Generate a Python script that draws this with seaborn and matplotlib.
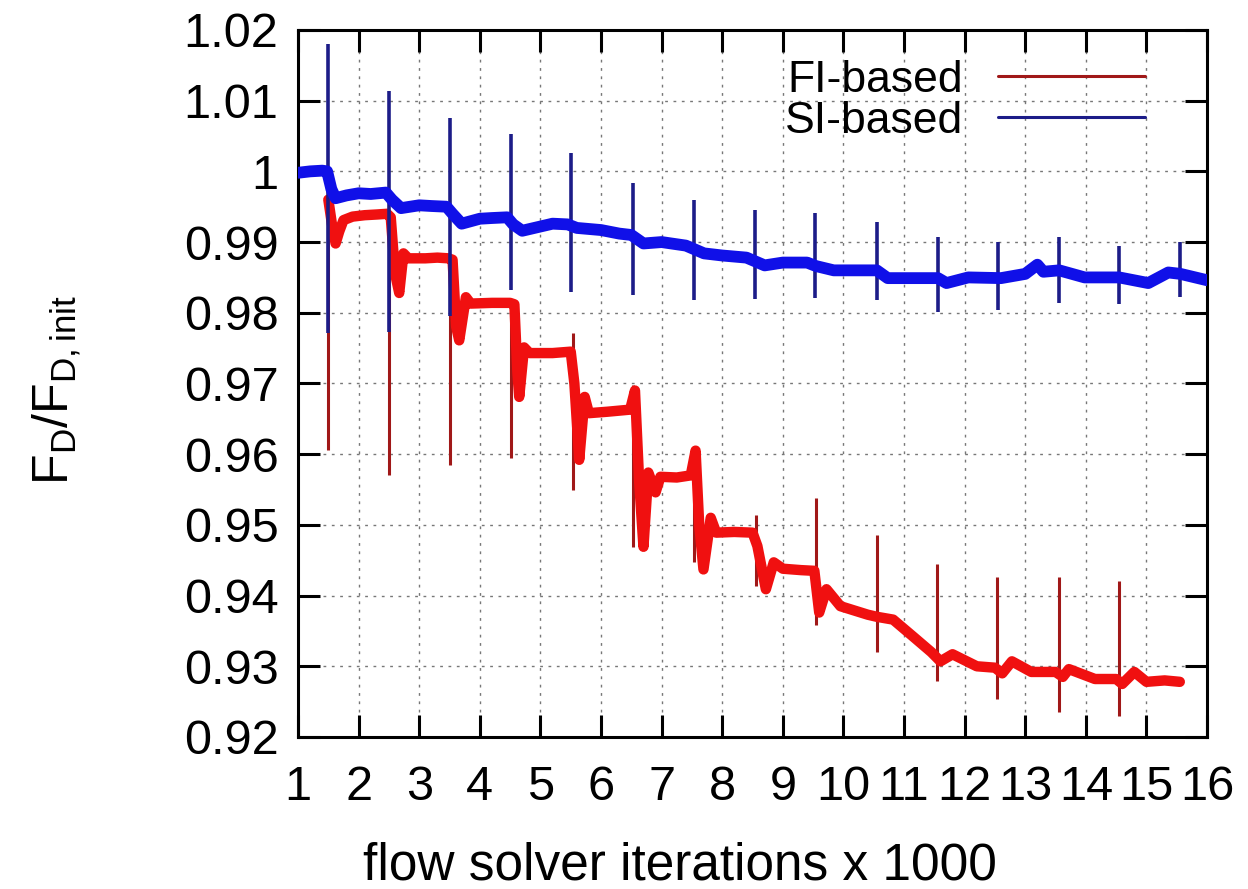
import matplotlib
matplotlib.use("Agg")
import matplotlib.pyplot as plt
import seaborn as sns
import pandas as pd
from matplotlib.lines import Line2D

# FI-based drag ratio (band of the noisy curve)
fi_x = [1.50, 1.56, 1.62, 1.68, 1.75, 1.90, 2.10, 2.30, 2.47, 2.53, 2.60, 2.67,
        2.74, 2.82, 3.10, 3.30, 3.48, 3.55, 3.61, 3.66, 3.77, 3.85, 4.20, 4.50,
        4.57, 4.62, 4.65, 4.73, 4.82, 5.20, 5.50, 5.56, 5.64, 5.73, 5.80, 6.10,
        6.48, 6.56, 6.63, 6.70, 6.78, 6.90, 6.98, 7.25, 7.48, 7.56, 7.62, 7.69,
        7.81, 7.90, 8.20, 8.50, 8.58, 8.72, 8.85, 9.00, 9.30, 9.52, 9.60, 9.72,
        9.95, 10.40, 10.55, 10.82, 11.15, 11.45, 11.60, 11.80, 12.20, 12.50,
        12.62, 12.78, 13.10, 13.50, 13.62, 13.72, 14.15, 14.50, 14.60, 14.80,
        15.00, 15.30, 15.55]
fi_y = [0.9960, 0.9925, 0.9898, 0.9915, 0.9931, 0.9936, 0.9938, 0.9939, 0.9940,
        0.9935, 0.9856, 0.9828, 0.9884, 0.9877, 0.9877, 0.9878, 0.9877, 0.9875,
        0.9780, 0.9761, 0.9822, 0.9813, 0.9814, 0.9814, 0.9812, 0.9715, 0.9681,
        0.9751, 0.9743, 0.9743, 0.9745, 0.9700, 0.9592, 0.9681, 0.9658, 0.9660,
        0.9663, 0.9690, 0.9560, 0.9469, 0.9574, 0.9546, 0.9568, 0.9567, 0.9570,
        0.9605, 0.9500, 0.9437, 0.9510, 0.9489, 0.9490, 0.9489, 0.9470, 0.9409,
        0.9447, 0.9438, 0.9436, 0.9435, 0.9376, 0.9409, 0.9385, 0.9373, 0.9370,
        0.9366, 0.9342, 0.9320, 0.9307, 0.9317, 0.9300, 0.9298, 0.9290, 0.9307,
        0.9292, 0.9292, 0.9285, 0.9296, 0.9282, 0.9282, 0.9275, 0.9292, 0.9278,
        0.9280, 0.9278]

# SI-based drag ratio
si_x = [1.00, 1.20, 1.40, 1.48, 1.55, 1.62, 1.80, 2.00, 2.20, 2.45, 2.55, 2.70,
        3.00, 3.20, 3.45, 3.55, 3.70, 4.00, 4.20, 4.45, 4.55, 4.70, 5.00, 5.20,
        5.45, 5.60, 6.00, 6.30, 6.50, 6.70, 7.00, 7.40, 7.70, 8.00, 8.40, 8.70,
        9.00, 9.40, 9.55, 9.84, 10.55, 10.73, 11.56, 11.70, 12.06, 12.60, 13.00,
        13.20, 13.30, 13.56, 13.98, 14.55, 15.03, 15.36, 15.56, 16.00]
si_y = [0.9998, 1.0000, 1.0001, 1.0000, 0.9975, 0.9962, 0.9966, 0.9969, 0.9968,
        0.9970, 0.9960, 0.9948, 0.9952, 0.9951, 0.9950, 0.9940, 0.9926, 0.9933,
        0.9934, 0.9935, 0.9925, 0.9916, 0.9922, 0.9926, 0.9925, 0.9920, 0.9917,
        0.9912, 0.9910, 0.9898, 0.9900, 0.9895, 0.9884, 0.9881, 0.9878, 0.9867,
        0.9871, 0.9871, 0.9866, 0.9860, 0.9860, 0.9849, 0.9849, 0.9842, 0.9850,
        0.9849, 0.9855, 0.9868, 0.9858, 0.9860, 0.9850, 0.9850, 0.9842, 0.9857,
        0.9855, 0.9846]

# restart spikes: position, low end, high end
fi_spike_x = [1.50, 2.50, 3.51, 4.52, 5.53, 6.52, 7.53, 8.55, 9.55, 10.55,
              11.55, 12.53, 13.56, 14.55]
fi_spike_lo = [0.9606, 0.9571, 0.9585, 0.9595, 0.9550, 0.9468, 0.9447, 0.9413,
               0.9359, 0.9320, 0.9279, 0.9254, 0.9235, 0.9230]
fi_spike_hi = [0.9960, 0.9940, 0.9877, 0.9814, 0.9771, 0.9698, 0.9610, 0.9514,
               0.9538, 0.9486, 0.9444, 0.9426, 0.9426, 0.9420]

si_spike_x = [1.50, 2.50, 3.51, 4.52, 5.51, 6.52, 7.53, 8.54, 9.53, 10.55,
              11.56, 12.55, 13.56, 14.55, 15.56]
si_spike_lo = [0.9771, 0.9773, 0.9795, 0.9832, 0.9829, 0.9825, 0.9818, 0.9819,
               0.9821, 0.9818, 0.9801, 0.9804, 0.9814, 0.9812, 0.9822]
si_spike_hi = [1.0180, 1.0113, 1.0075, 1.0053, 1.0026, 0.9984, 0.9960, 0.9945,
               0.9941, 0.9928, 0.9907, 0.9900, 0.9907, 0.9895, 0.9900]

x_ticks = list(range(1, 17))
y_ticks = [0.92, 0.93, 0.94, 0.95, 0.96, 0.97, 0.98, 0.99, 1.00, 1.01, 1.02]
y_tick_labels = ["0.92", "0.93", "0.94", "0.95", "0.96", "0.97", "0.98",
                 "0.99", "1", "1.01", "1.02"]

sns.set_style("ticks", {"text.color": "black", "axes.labelcolor": "black",
                        "xtick.color": "black", "ytick.color": "black"})
plt.rcParams["font.family"] = ["Liberation Sans", "DejaVu Sans"]
plt.rcParams["mathtext.fontset"] = "custom"
plt.rcParams["mathtext.rm"] = "Liberation Sans"
plt.rcParams["mathtext.it"] = "Liberation Sans"

fig = plt.figure(figsize=(12.48, 8.89), dpi=100)
ax = fig.add_axes([0.2388, 0.1710, 0.7284, 0.7953])

fi_df = pd.DataFrame({"x": fi_x, "y": fi_y})
si_df = pd.DataFrame({"x": si_x, "y": si_y})

red_band, red_line = "#f01010", "#a01818"
blue_band, blue_line = "#1010e8", "#1c1c88"

ax.vlines(fi_spike_x, fi_spike_lo, fi_spike_hi, color=red_line, lw=2.2, zorder=2)
sns.lineplot(data=fi_df, x="x", y="y", color=red_band, lw=7.5,
             estimator=None, ax=ax, zorder=3)
ax.vlines(si_spike_x, si_spike_lo, si_spike_hi, color=blue_line, lw=2.6, zorder=4)
sns.lineplot(data=si_df, x="x", y="y", color=blue_band, lw=8.5,
             estimator=None, ax=ax, zorder=5)

ax.set_xlim(1, 16)
ax.set_ylim(0.92, 1.02)
ax.set_xticks(x_ticks)
ax.set_xticklabels([str(t) for t in x_ticks])
ax.set_yticks(y_ticks)
ax.set_yticklabels(y_tick_labels)

ax.grid(True, color="#777777", linestyle=(0, (2, 4)), linewidth=1.0)
ax.set_axisbelow(True)
for side in ax.spines.values():
    side.set_linewidth(2.2)
    side.set_color("black")
ax.tick_params(direction="in", length=16, width=2.2, labelsize=35,
               top=True, right=True)
ax.tick_params(axis="x", pad=20)
ax.tick_params(axis="y", pad=14)

ax.set_xlabel("flow solver iterations x 1000", fontsize=37, va="top")
ax.xaxis.set_label_coords(0.42, -0.148)
ax.set_ylabel(r"$\mathrm{F_D/F_{D,init}}$", fontsize=36)
ax.yaxis.set_label_coords(-0.237, 0.49)

handles = [Line2D([], [], color=red_line, lw=2.2, label="FI-based"),
           Line2D([], [], color=blue_line, lw=2.2, label="SI-based")]
ax.legend(handles=handles, loc="upper right", frameon=False, markerfirst=False,
          fontsize=32, handlelength=3.3, handletextpad=0.8, labelspacing=0.0,
          borderaxespad=0.3, bbox_to_anchor=(0.966, 1.002))

fig.savefig("out.png", dpi=100, facecolor="white")
